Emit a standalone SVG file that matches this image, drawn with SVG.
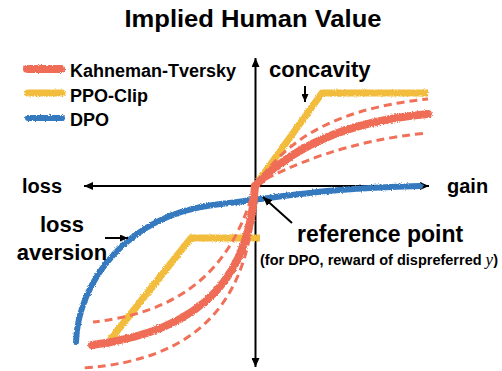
<svg xmlns="http://www.w3.org/2000/svg" width="502" height="371" viewBox="0 0 502 371">
<style>
  text { font-family: "Liberation Sans", Arial, sans-serif; font-weight: bold; fill: #000; }
  .axis { stroke: #000; stroke-width: 2; fill: none; }
  .ptr { stroke: #000; stroke-width: 2; fill: none; }
  .kt { stroke: #EF6D56; stroke-width: 8; fill: none; stroke-linecap: round; }
  .ktd { stroke: #F07059; stroke-width: 3; fill: none; stroke-dasharray: 8 5; }
  .ppo { stroke: #F2BD3C; stroke-width: 7; fill: none; stroke-linejoin: miter; }
  .dpo { stroke: #3479BF; stroke-width: 6; fill: none; stroke-linecap: round; }
</style>
<defs>
  <filter id="crayon" filterUnits="userSpaceOnUse" x="0" y="0" width="502" height="371">
    <feTurbulence type="fractalNoise" baseFrequency="0.9" numOctaves="2" seed="3" result="n"/>
    <feDisplacementMap in="SourceGraphic" in2="n" scale="3" xChannelSelector="R" yChannelSelector="G"/>
  </filter>
  <marker id="ah" viewBox="0 0 9 8" refX="9" refY="4" markerWidth="9" markerHeight="8" markerUnits="userSpaceOnUse" orient="auto">
    <path d="M0,0 L9,4 L0,8 z" fill="#000"/>
  </marker>
  <marker id="ahs" viewBox="0 0 8 7" refX="8" refY="3.5" markerWidth="8" markerHeight="7" markerUnits="userSpaceOnUse" orient="auto">
    <path d="M0,0 L8,3.5 L0,7 z" fill="#000"/>
  </marker>
</defs>

<g id="title"><text x="253" y="27" font-size="24" text-anchor="middle" textLength="257" lengthAdjust="spacingAndGlyphs">Implied Human Value</text></g>

<g id="legend">
  <g filter="url(#crayon)">
    <line class="kt" x1="27" y1="69" x2="61" y2="69"/>
    <line class="ppo" x1="28" y1="93" x2="62" y2="93" stroke-linecap="round"/>
    <line class="dpo" x1="28" y1="118" x2="62" y2="118"/>
  </g>
  <text x="70" y="77" font-size="18">Kahneman-Tversky</text>
  <text x="70" y="102" font-size="18">PPO-Clip</text>
  <text x="70" y="126" font-size="18">DPO</text>
</g>

<g id="axes">
  <line class="axis" x1="255.5" y1="186" x2="255.5" y2="58" marker-end="url(#ah)"/>
  <line class="axis" x1="255.5" y1="186" x2="255.5" y2="367" marker-end="url(#ah)"/>
  <line class="axis" x1="255.5" y1="186" x2="84" y2="186" marker-end="url(#ah)"/>
  <line class="axis" x1="255.5" y1="186" x2="429" y2="186" marker-end="url(#ah)"/>
</g>

<g id="curves">
  <g id="ppo-clip" filter="url(#crayon)">
    <path class="ppo" d="M255,186 L322,93 L428,93"/>
    <path class="ppo" d="M260,238 L191,238 L110,340"/>
  </g>
  <g id="dpo" filter="url(#crayon)">
    <path class="dpo" d="M76,342 C78,280 130,215 213,205 C296,195 330,188 420,186"/>
  </g>
  <g id="kt-dashed">
    <path class="ktd" d="M255,186 C280,150 320,110 428,99"/>
    <path class="ktd" d="M255,185 C290,165 350,140 428,133"/>
    <path class="ktd" d="M255,186 C238,245 205,310 93,322"/>
    <path class="ktd" d="M255,186 C252,300 200,360 83,368"/>
  </g>
  <g id="kahneman-tversky" filter="url(#crayon)">
    <path class="kt" d="M255,186 C290,150 340,122 428,114"/>
    <path class="kt" d="M255,186 C250,270 210,330 92,345"/>
  </g>
</g>

<g id="labels">
  <text x="22" y="193" font-size="20">loss</text>
  <text x="447" y="193" font-size="20">gain</text>
  <text x="269" y="77" font-size="22">concavity</text>
  <text x="62" y="232" font-size="22" text-anchor="middle">loss</text>
  <text x="62" y="260" font-size="22" text-anchor="middle">aversion</text>
  <text x="297" y="242" font-size="23">reference point</text>
  <text x="260" y="265" font-size="14.5">(for DPO, reward of dispreferred <tspan font-family="'Liberation Serif', 'Times New Roman', serif" font-style="italic" font-weight="normal" font-size="17">y</tspan>)</text>
</g>

<g id="connectors">
  <line class="ptr" x1="305" y1="86" x2="305" y2="102" marker-end="url(#ahs)"/>
  <line class="ptr" x1="105" y1="238" x2="128" y2="238" marker-end="url(#ahs)"/>
  <line class="ptr" x1="292" y1="223" x2="263" y2="197" marker-end="url(#ah)"/>
</g>
</svg>
